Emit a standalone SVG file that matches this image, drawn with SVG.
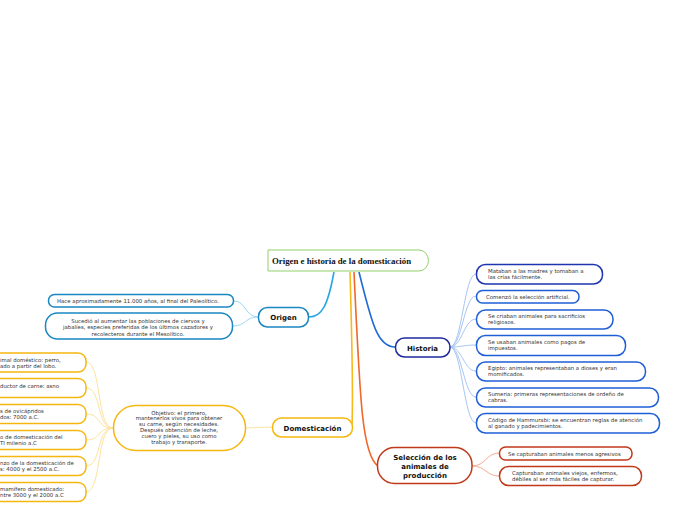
<svg xmlns="http://www.w3.org/2000/svg" width="696" height="520" viewBox="0 0 696 520">
<style>
.t{font-family:"DejaVu Sans",Verdana,sans-serif;font-size:5.4px;fill:#333}
.b{font-family:"DejaVu Sans",Verdana,sans-serif;font-size:7px;font-weight:bold;fill:#111;text-anchor:middle}
.c{text-anchor:middle}
.n{fill:#fff;stroke-width:1.5}
.con{fill:none;stroke-width:1}
.main{fill:none;stroke-width:1.6}
</style>
<rect width="696" height="520" fill="#fff"/>
<g id="connectors">
  <path class="main" d="M334,272 C328,305 322,317 309,317" stroke="#2aa6e0"/>
  <path class="main" d="M350,272 C352,340 353,400 352,426" stroke="#f7b81c"/>
  <path class="main" d="M354,272 C360,400 362,455 378,466" stroke="#f0682a"/>
  <path class="main" d="M359,272 C372,325 378,347 395,347" stroke="#1f6ad6"/>
  <g stroke="#9dd8f2" class="con">
    <path d="M258,317 C245,317 246,301 234,301"/>
    <path d="M258,317 C245,317 246,326 233,326"/>
  </g>
  <path class="con" d="M272,427 L246,428" stroke="#fde3a0"/>
  <g stroke="#fde3a0" class="con">
    <path d="M113,428 C96,428 102,362 86,362"/>
    <path d="M113,428 C96,428 102,388 86,388"/>
    <path d="M113,428 C96,428 102,414 86,414"/>
    <path d="M113,428 C96,428 102,440 86,440"/>
    <path d="M113,428 C96,428 102,466 86,466"/>
    <path d="M113,428 C96,428 102,492 86,492"/>
  </g>
  <g stroke="#a8c6f2" class="con">
    <path d="M450,347 C462,347 464,274 476,274"/>
    <path d="M450,347 C462,347 464,296 476,296"/>
    <path d="M450,347 C462,347 464,319 476,319"/>
    <path d="M450,347 C462,347 464,345 476,345"/>
    <path d="M450,347 C462,347 464,371 476,371"/>
    <path d="M450,347 C462,347 464,397 476,397"/>
    <path d="M450,347 C462,347 464,423 476,423"/>
  </g>
  <g stroke="#f6ab90" class="con">
    <path d="M472,466 C486,466 486,453 499,453"/>
    <path d="M472,466 C486,466 486,476 499,476"/>
  </g>
</g>
<g id="central">
  <path d="M268,250 H419 A9,10 0 0 1 419,271 H268 Z" fill="#fff" stroke="#8fd16b" stroke-width="1"/>
  <text x="272" y="263.5" font-family="'Liberation Serif','Times New Roman',serif" font-size="8.8" font-weight="bold" fill="#111">Origen e historia de la domesticación</text>
</g>
<g id="origen">
  <rect class="n" x="258.5" y="307.5" width="50" height="19.5" rx="9" stroke="#1a86c2"/>
  <text class="b" x="283.5" y="320">Origen</text>
</g>
<g id="origen-1">
  <rect class="n" x="48.5" y="294.5" width="185" height="12.5" rx="6" stroke="#1a86c2"/>
  <text class="t" x="57" y="302.7">Hace aproximadamente 11.000 años, al final del Paleolítico.</text>
</g>
<g id="origen-2">
  <rect class="n" x="45.5" y="313" width="187" height="26" rx="12" stroke="#1a86c2"/>
  <text class="t c" x="138"><tspan x="138" y="322.5">Sucedió al aumentar las poblaciones de ciervos y</tspan><tspan x="138" y="329">jabalíes, especies preferidas de los últimos cazadores y</tspan><tspan x="138" y="335.5">recolecteros durante el Mesolítico.</tspan></text>
</g>
<g id="domesticacion">
  <rect class="n" x="272.5" y="418" width="80" height="19" rx="9" stroke="#f5b70f"/>
  <text class="b" x="312.5" y="430.5">Domesticación</text>
</g>
<g id="objetivo">
  <rect class="n" x="113.5" y="405.5" width="132" height="45" rx="22" stroke="#f5b70f"/>
  <text class="t c"><tspan x="179" y="414.5">Objetivo: el primero,</tspan><tspan x="179" y="420.3">mantenerlos vivos para obtener</tspan><tspan x="179" y="426.1">su carne, según necesidades.</tspan><tspan x="179" y="431.9">Después obtención de leche,</tspan><tspan x="179" y="437.7">cuero y pieles, su uso como</tspan><tspan x="179" y="443.5">trabajo y transporte.</tspan></text>
</g>
<g id="dom-1">
  <rect class="n" x="-20" y="353" width="106" height="19" rx="8" stroke="#f5b70f"/>
  <text class="t"><tspan x="0" y="361.5">imal doméstico: perro,</tspan><tspan x="0" y="367.5">ado a partir del lobo.</tspan></text>
</g>
<g id="dom-2">
  <rect class="n" x="-20" y="378.5" width="106" height="19" rx="8" stroke="#f5b70f"/>
  <text class="t" x="0" y="387.5">ductor de carne: asno</text>
</g>
<g id="dom-3">
  <rect class="n" x="-20" y="404.5" width="106" height="19" rx="8" stroke="#f5b70f"/>
  <text class="t"><tspan x="0" y="413">s de ovicápridos</tspan><tspan x="0" y="419">dos: 7000 a.C.</tspan></text>
</g>
<g id="dom-4">
  <rect class="n" x="-20" y="430.5" width="106" height="19" rx="8" stroke="#f5b70f"/>
  <text class="t"><tspan x="0" y="438.5">o de domesticación del</tspan><tspan x="0" y="444.5">TI milenio a.C</tspan></text>
</g>
<g id="dom-5">
  <rect class="n" x="-20" y="456.5" width="106" height="19" rx="8" stroke="#f5b70f"/>
  <text class="t"><tspan x="0" y="464.5">nzo de la domesticación de</tspan><tspan x="0" y="470.5">s:  4000 y el 2500 a.C.</tspan></text>
</g>
<g id="dom-6">
  <rect class="n" x="-20" y="482.5" width="106" height="19" rx="8" stroke="#f5b70f"/>
  <text class="t"><tspan x="0" y="490.5">mamífero domesticado:</tspan><tspan x="0" y="496.5">ntre 3000 y el 2000 a.C</tspan></text>
</g>
<g id="historia">
  <rect class="n" x="395.5" y="338" width="54.5" height="19" rx="9" stroke="#1f2a9e"/>
  <text class="b" x="422.5" y="350.5">Historia</text>
</g>
<g id="hist-1">
  <rect class="n" x="476.5" y="264.5" width="126" height="19.5" rx="9" stroke="#1f35b0"/>
  <text class="t"><tspan x="488" y="272.5">Mataban a las madres y tomaban a</tspan><tspan x="488" y="278.5">las crías fácilmente.</tspan></text>
</g>
<g id="hist-2">
  <rect class="n" x="476.5" y="290.5" width="102.5" height="12.5" rx="6" stroke="#1f5fd6"/>
  <text class="t" x="486" y="298.7">Comenzó la selección artificial.</text>
</g>
<g id="hist-3">
  <rect class="n" x="476.5" y="310" width="136.5" height="19" rx="9" stroke="#1f5fd6"/>
  <text class="t"><tspan x="488" y="318">Se criaban animales para sacrificios</tspan><tspan x="488" y="324">religiosos.</tspan></text>
</g>
<g id="hist-4">
  <rect class="n" x="476.5" y="335.5" width="149" height="20" rx="9" stroke="#1f5fd6"/>
  <text class="t"><tspan x="488" y="343.5">Se usaban animales como pagos de</tspan><tspan x="488" y="349.5">impuestos.</tspan></text>
</g>
<g id="hist-5">
  <rect class="n" x="476.5" y="362" width="169" height="19" rx="9" stroke="#1f5fd6"/>
  <text class="t"><tspan x="488" y="369.5">Egipto: animales representaban a dioses  y eran</tspan><tspan x="488" y="375.5">momificados.</tspan></text>
</g>
<g id="hist-6">
  <rect class="n" x="476.5" y="388" width="182" height="19" rx="9" stroke="#1f5fd6"/>
  <text class="t"><tspan x="488" y="395.5">Sumeria: primeras representaciones de ordeño de</tspan><tspan x="488" y="401.5">cabras.</tspan></text>
</g>
<g id="hist-7">
  <rect class="n" x="476.5" y="413.5" width="183" height="19.5" rx="9" stroke="#1f5fd6"/>
  <text class="t"><tspan x="488" y="421.5">Código de Hammurabi: se encuentran reglas de atención</tspan><tspan x="488" y="427.5">al ganado y padecimientos.</tspan></text>
</g>
<g id="seleccion">
  <rect class="n" x="377.5" y="447.5" width="94.5" height="36" rx="17" stroke="#c0391b"/>
  <text class="b"><tspan x="425" y="460">Selección de los</tspan><tspan x="425" y="469">animales de</tspan><tspan x="425" y="477.5">producción</tspan></text>
</g>
<g id="sel-1">
  <rect class="n" x="499.5" y="447" width="132.5" height="13" rx="6" stroke="#c0391b"/>
  <text class="t" x="508" y="455.7">Se capturaban animales menos agresivos</text>
</g>
<g id="sel-2">
  <rect class="n" x="499.5" y="466.5" width="142" height="19" rx="9" stroke="#c0391b"/>
  <text class="t"><tspan x="512" y="474.5">Capturaban animales viejos, enfermos,</tspan><tspan x="512" y="480.5">débiles al ser más fáciles de capturar.</tspan></text>
</g>
</svg>
